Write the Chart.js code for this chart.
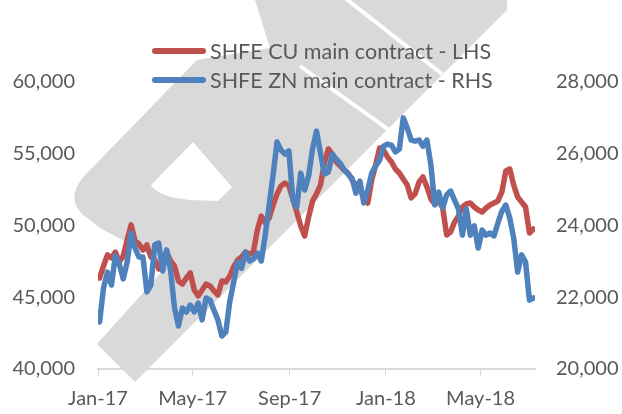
<!DOCTYPE html>
<html>
<head>
<meta charset="utf-8">
<script src="https://cdn.jsdelivr.net/npm/chart.js@4.4.1/dist/chart.umd.min.js"></script>
<style>
  html, body { margin: 0; padding: 0; background: #fff; }
  canvas { display: block; }
</style>
</head>
<body>
<canvas id="myChart" width="622" height="414"></canvas>
<script>
// trading dates (roughly every 5 days)
let dates = [
  '2017-01-03','2017-01-08','2017-01-13','2017-01-18','2017-01-23','2017-01-28','2017-02-02','2017-02-07','2017-02-12','2017-02-17',
  '2017-02-22','2017-02-27','2017-03-04','2017-03-09','2017-03-14','2017-03-19','2017-03-24','2017-03-29','2017-04-03','2017-04-08',
  '2017-04-13','2017-04-18','2017-04-23','2017-04-28','2017-05-03','2017-05-08','2017-05-13','2017-05-18','2017-05-23','2017-05-28',
  '2017-06-02','2017-06-07','2017-06-12','2017-06-17','2017-06-22','2017-06-27','2017-07-02','2017-07-07','2017-07-12','2017-07-17',
  '2017-07-22','2017-07-27','2017-08-01','2017-08-06','2017-08-11','2017-08-16','2017-08-21','2017-08-26','2017-08-31','2017-09-05',
  '2017-09-10','2017-09-15','2017-09-20','2017-09-25','2017-09-30','2017-10-05','2017-10-10','2017-10-15','2017-10-20','2017-10-25',
  '2017-10-30','2017-11-04','2017-11-09','2017-11-14','2017-11-19','2017-11-24','2017-11-29','2017-12-04','2017-12-09','2017-12-14',
  '2017-12-19','2017-12-24','2017-12-29','2018-01-03','2018-01-08','2018-01-13','2018-01-18','2018-01-23','2018-01-28','2018-02-02',
  '2018-02-07','2018-02-12','2018-02-17','2018-02-22','2018-02-27','2018-03-04','2018-03-09','2018-03-14','2018-03-19','2018-03-24',
  '2018-03-29','2018-04-03','2018-04-08','2018-04-13','2018-04-18','2018-04-23','2018-04-28','2018-05-03','2018-05-08','2018-05-13',
  '2018-05-18','2018-05-23','2018-05-28','2018-06-02','2018-06-07','2018-06-12','2018-06-17','2018-06-22','2018-06-27','2018-07-02',
  '2018-07-07'
];

let cuValues = [
  46340, 47180, 47950, 47740, 48150, 47460, 47880, 48990, 50040, 48920,
  48710, 48290, 48640, 47810, 47600, 46970, 47740, 48150, 47530, 47180,
  46130, 45920, 46340, 46690, 45510, 45090, 45510, 45920, 45790, 45440,
  45160, 46130, 46060, 46480, 47110, 47600, 47810, 48150, 48020, 48150,
  49690, 50660, 50180, 50520, 51430, 52200, 52760, 52960, 52760, 51850,
  50940, 49970, 49270, 50590, 51710, 52200, 52820, 54360, 55330, 54990,
  54430, 54150, 53870, 53660, 53170, 52820, 52620, 51920, 51570, 53170,
  54220, 55400, 55260, 54780, 54430, 53940, 53660, 53240, 52820, 51920,
  52200, 53030, 53380, 52690, 51850, 51500, 51710, 51220, 49340, 49550,
  50250, 50660, 51290, 51500, 51570, 51290, 51080, 50940, 51220, 51430,
  51570, 51710, 52340, 53800, 53940, 52820, 51990, 51640, 51290, 49480,
  49760
];

let znValues = [
  21310, 22260, 22700, 22340, 23150, 22930, 22510, 22980, 23790, 23370,
  23120, 23120, 22150, 22340, 23460, 23510, 22730, 23320, 22760, 21700,
  21200, 21700, 21590, 21780, 21590, 21840, 21370, 21980, 21920, 21640,
  21370, 20920, 21030, 21870, 22420, 22980, 22810, 23260, 23010, 23070,
  23230, 23010, 23730, 24570, 25410, 26330, 26100, 25990, 26080, 24710,
  24510, 25460, 24990, 25380, 26130, 26630, 26020, 25430, 25490, 25990,
  25850, 25740, 25550, 25430, 25320, 24900, 25240, 24630, 24990, 25460,
  25660, 25820, 26210, 26270, 26240, 26050, 26130, 27000, 26720, 26380,
  26350, 26380, 26210, 26380, 25690, 24570, 24930, 24490, 24850, 24960,
  24710, 24460, 23730, 24460, 23730, 23990, 23370, 23870, 23730, 23790,
  23710, 24070, 24400, 24570, 24210, 23650, 22700, 23180, 22980, 21920,
  21980
];

let seriesNames = ['SHFE CU main contract - LHS', 'SHFE ZN main contract - RHS'];
let tickDates = ['2017-01-01', '2017-05-01', '2017-09-01', '2018-01-01', '2018-05-01'];
let tickLabels = ['Jan-17', 'May-17', 'Sep-17', 'Jan-18', 'May-18'];
let axisEnd = '2018-07-09';

let textColor = '#595959';
let labelFont = { family: 'Lato', size: 20 };

let dayZero = Date.UTC(2017, 0, 1);
let toDay = (s) => (Date.parse(s) - dayZero) / 864e5;

// grey logo behind the plot
let watermark = {
  id: 'watermark',
  beforeDraw: (chart) => {
    let c = chart.ctx;
    c.save();
    c.fillStyle = '#fff';
    c.fillRect(0, 0, chart.width, chart.height);
    c.fillStyle = '#d9d9d9';
    c.beginPath();
    c.moveTo(255, 0);
    c.lineTo(507, 0);
    c.lineTo(507, 10);
    c.lineTo(135, 382);
    c.lineTo(97, 344);
    c.lineTo(168, 265);
    c.lineTo(137, 248);
    c.lineTo(100, 228);
    c.lineTo(82, 214);
    c.quadraticCurveTo(64, 196, 88, 172);
    c.lineTo(197, 60);
    c.lineTo(270, 48);
    c.closePath();
    c.fill();
    // inner notch of the S
    c.fillStyle = '#fff';
    c.beginPath();
    c.moveTo(193, 142);
    c.lineTo(151, 185);
    c.quadraticCurveTo(158, 197, 190, 200);
    c.lineTo(218, 201);
    c.lineTo(232, 187);
    c.closePath();
    c.fill();
    // thin cuts
    c.strokeStyle = '#fff';
    c.lineWidth = 4;
    c.beginPath();
    c.moveTo(345, -2);
    c.lineTo(442, 74);
    c.moveTo(300, 66);
    c.lineTo(389, 130);
    c.stroke();
    c.restore();
  }
};

// legend drawn by hand so it can sit over the top of the plot
let lineLegend = {
  id: 'lineLegend',
  afterDraw: (chart) => {
    let c = chart.ctx;
    let rows = [51, 80];
    c.save();
    chart.data.datasets.forEach((ds, i) => {
      c.strokeStyle = ds.borderColor;
      c.lineWidth = 6;
      c.lineCap = 'round';
      c.beginPath();
      c.moveTo(155, rows[i]);
      c.lineTo(203, rows[i]);
      c.stroke();
      c.fillStyle = textColor;
      c.font = '21.5px Lato';
      c.textBaseline = 'middle';
      c.fillText(ds.label, 210, rows[i] + 1);
    });
    c.restore();
  }
};

let ctx = document.getElementById('myChart').getContext('2d');

let myChart = new Chart(ctx, {
  type: 'line',
  data: {
    datasets: [{
      label: seriesNames[0],
      data: dates.map((d, i) => ({ x: toDay(d), y: cuValues[i] })),
      borderColor: '#c0504d',
      yAxisID: 'yL',
      order: 1
    }, {
      label: seriesNames[1],
      data: dates.map((d, i) => ({ x: toDay(d), y: znValues[i] })),
      borderColor: '#4f81bd',
      yAxisID: 'yR',
      order: 0
    }]
  },
  options: {
    responsive: false,
    animation: false,
    layout: { padding: { top: 82, right: 0, bottom: 0, left: 0 } },
    elements: {
      point: { radius: 0 },
      line: { borderWidth: 5.5, tension: 0, borderJoinStyle: 'round', borderCapStyle: 'round' }
    },
    plugins: {
      legend: { display: false },
      tooltip: { enabled: false }
    },
    scales: {
      x: {
        type: 'linear',
        min: 0,
        max: toDay(axisEnd),
        afterBuildTicks: (scale) => {
          scale.ticks = tickDates.map(d => ({ value: toDay(d) }));
        },
        afterFit: (scale) => { scale.height = 45; },
        ticks: {
          autoSkip: false,
          maxRotation: 0,
          padding: 11,
          color: textColor,
          font: labelFont,
          callback: (value, index) => tickLabels[index]
        },
        grid: { drawOnChartArea: false, color: '#d9d9d9', tickLength: 7, lineWidth: 1 },
        border: { color: '#d9d9d9', width: 2 }
      },
      yL: {
        position: 'left',
        min: 40000,
        max: 60000,
        afterFit: (scale) => { scale.width = 98; },
        ticks: {
          stepSize: 5000,
          padding: 23,
          color: textColor,
          font: labelFont,
          callback: (value) => value.toLocaleString('en-US')
        },
        grid: { display: false, drawTicks: false },
        border: { display: false }
      },
      yR: {
        position: 'right',
        min: 20000,
        max: 28000,
        afterFit: (scale) => { scale.width = 87; },
        ticks: {
          stepSize: 2000,
          padding: 21,
          color: textColor,
          font: labelFont,
          callback: (value) => value.toLocaleString('en-US')
        },
        grid: { display: false, drawTicks: false },
        border: { display: false }
      }
    }
  },
  plugins: [watermark, lineLegend]
});
</script>
</body>
</html>
